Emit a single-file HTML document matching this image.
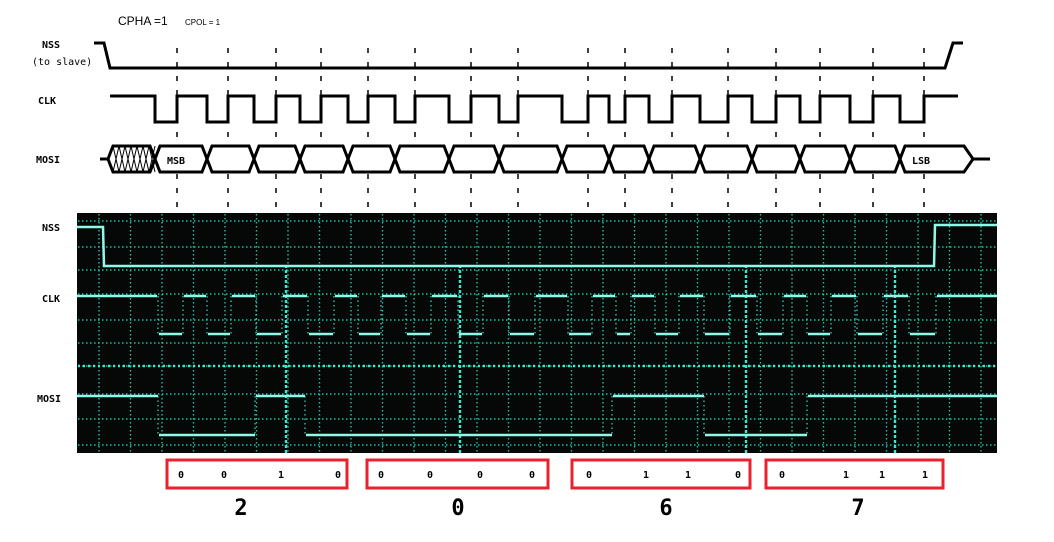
<!DOCTYPE html>
<html><head><meta charset="utf-8"><style>
body{margin:0;background:#fff;width:1054px;height:542px;overflow:hidden}
svg{display:block}
.m{font-family:"DejaVu Sans Mono","Liberation Mono",monospace;font-weight:bold}
</style></head><body>
<svg id="s" width="1054" height="542" viewBox="0 0 1054 542">
<text x="118" y="25" font-family="Liberation Sans,sans-serif" font-size="12">CPHA =1</text>
<text x="185" y="25" font-family="Liberation Sans,sans-serif" font-size="8">CPOL = 1</text>
<text x="42" y="48" class="m" font-size="10">NSS</text>
<text x="32" y="65" font-family="DejaVu Sans Mono,monospace" font-size="10">(to slave)</text>
<text x="38" y="104" class="m" font-size="10">CLK</text>
<text x="36" y="163" class="m" font-size="10">MOSI</text>
<text x="42" y="231" class="m" font-size="10">NSS</text>
<text x="42" y="302" class="m" font-size="10">CLK</text>
<text x="37" y="402" class="m" font-size="10">MOSI</text>
<g id="topg"></g>
<rect x="77" y="213" width="920" height="240" fill="#050806"/>
<g id="grid"></g>
<g id="tr"></g>
<g id="boxes"></g>
</svg>
<script>
// ---- data ----
const clkEdgesTop = [155,177,207,228,254,276,300,321,348,368,395,415,449,471,499,518,562,588,609,625,649,672,700,728,752,776,800,820,850,873,900,924];
const risingTop = [177,228,276,321,368,415,471,518,588,625,672,728,776,820,873,924];
const mosiBoundaries = [155,207,254,300,348,395,449,499,562,609,649,700,752,800,850,900];
const scopeClkEdges = [157,182,206,230,255,281,307,333,357,380,405,430,457,482,508,534,567,591,615,630,654,678,703,729,756,782,806,830,856,882,908,935];
const scopeMosiEdges = [158,255,305,612,704,807];
const scopeMosiStartHigh = true;
const bitGroups = [["0","0","1","0"],["0","0","0","0"],["0","1","1","0"],["0","1","1","1"]];
const nibbleValues = ["2","0","6","7"];
const NS="http://www.w3.org/2000/svg";
function mk(p,t,a){const e=document.createElementNS(NS,t);for(const k in a)e.setAttribute(k,a[k]);p.appendChild(e);return e;}
const topG=document.getElementById('topg');
let e=mk(topG,'polyline',{points:"94,43 104,43 110,68 945,68 953,43 963,43",fill:"none",stroke:"#000","stroke-width":3});


const hi=96,lo=122;let pts=["110,"+hi];let lvl=hi;
clkEdgesTop.forEach(x=>{pts.push(x+","+lvl);lvl=(lvl==hi?lo:hi);pts.push(x+","+lvl);});
pts.push("958,"+lvl);
e=mk(topG,'polyline',{points:pts.join(" "),fill:"none",stroke:"#000","stroke-width":3});


risingTop.forEach(x=>{
 const l=mk(topG,'line',{x1:x,y1:48,x2:x,y2:212,stroke:"#000","stroke-width":1.5,"stroke-dasharray":"5,9"});
 
 
});
const mt=146,mb=172,mc=159;
mk(topG,'line',{x1:100,y1:mc,x2:108,y2:mc,stroke:"#000","stroke-width":3});
mk(topG,'line',{x1:973,y1:mc,x2:990,y2:mc,stroke:"#000","stroke-width":3});
e=mk(topG,'polygon',{points:`108,${mc} 113,${mt} 150,${mt} 155,${mc} 150,${mb} 113,${mb}`,fill:"#fff",stroke:"#000","stroke-width":3});


for(let x=113;x<150;x+=6){mk(topG,'path',{d:`M${x},${mt} L${x+6},${mb} M${x+6},${mt} L${x},${mb}`,stroke:"#000","stroke-width":1});}
const bnd=mosiBoundaries.concat([973]);
for(let i=0;i<bnd.length-1;i++){
 const a=bnd[i],b=bnd[i+1];const endPt=(i==bnd.length-2);
 const p=mk(topG,'polygon',{points:`${a},${mc} ${a+5},${mt} ${b-(endPt?9:5)},${mt} ${b},${mc} ${b-(endPt?9:5)},${mb} ${a+5},${mb}`,fill:"#fff",stroke:"#000","stroke-width":3});
 
 
}
e=mk(topG,'text',{x:167,y:164,"font-size":10,class:"m"});e.textContent="MSB";


e=mk(topG,'text',{x:912,y:164,"font-size":10,class:"m"});e.textContent="LSB";


const g=document.getElementById('grid');
const col="#1fbfa6";
for(let x=99;x<997;x+=31.5){mk(g,'line',{x1:x,y1:214,x2:x,y2:452,stroke:col,"stroke-width":1.4,"stroke-dasharray":"1.5,2.5"});}
[221,247,270,294,320,343,366,394,419,445].forEach(y=>{mk(g,'line',{x1:78,y1:y,x2:996,y2:y,stroke:col,"stroke-width":1.4,"stroke-dasharray":"1.5,2.5"});});
[286,460,746,895].forEach(x=>{mk(g,'line',{x1:x,y1:265,x2:x,y2:453,stroke:"#3fe8cc","stroke-width":2.4,"stroke-dasharray":"3,2"});});
mk(g,'line',{x1:78,y1:366,x2:996,y2:366,stroke:"#3fe8cc","stroke-width":2.4,"stroke-dasharray":"2,3"});
const tr=document.getElementById('tr');const tc="#8ff8e6";
e=mk(tr,'polyline',{points:"77,227 103,227 104,266 934,266 935,225 997,225",fill:"none",stroke:tc,"stroke-width":2.5});


const sh=296,sl=334;lvl=sh;let segs=[],vsegs=[];let prev=77;
scopeClkEdges.forEach(x=>{segs.push(`M${prev},${lvl} L${x},${lvl}`);vsegs.push(`M${x+1},${sh} L${x+1},${sl}`);lvl=(lvl==sh?sl:sh);prev=x+2;});
segs.push(`M${prev},${lvl} L997,${lvl}`);
mk(tr,'path',{d:vsegs.join(" "),fill:"none",stroke:"#3fd8c0","stroke-width":1.2,"stroke-dasharray":"1.5,3"});
e=mk(tr,'path',{d:segs.join(" "),fill:"none",stroke:tc,"stroke-width":2.5});


const mh=396,ml=435;lvl=scopeMosiStartHigh?mh:ml;segs=[];vsegs=[];prev=77;
scopeMosiEdges.forEach(x=>{segs.push(`M${prev},${lvl} L${x},${lvl}`);vsegs.push(`M${x},${mh} L${x},${ml}`);lvl=(lvl==mh?ml:mh);prev=x+1;});
segs.push(`M${prev},${lvl} L997,${lvl}`);
mk(tr,'path',{d:vsegs.join(" "),fill:"none",stroke:"#3fd8c0","stroke-width":1.2,"stroke-dasharray":"1.5,3"});
e=mk(tr,'path',{d:segs.join(" "),fill:"none",stroke:tc,"stroke-width":2.5});


const bx=document.getElementById('boxes');
const boxX=[167,367,572,766],boxW=[180,181,178,177];
const digX=[[181,224,281,338],[381,430,480,532],[589,646,688,738],[782,846,882,925]];
const bigX=[241,458,666,858];
bitGroups.forEach((grp,i)=>{
 const r=mk(bx,'rect',{x:boxX[i],y:460,width:boxW[i],height:28,fill:"none",stroke:"#e8212e","stroke-width":3});
 
 
 grp.forEach((b,j)=>{const t=mk(bx,'text',{x:digX[i][j],y:478,"font-size":10,class:"m","text-anchor":"middle"});t.textContent=b;
  
  });
 const t=mk(bx,'text',{x:bigX[i],y:515,"font-size":22,class:"m","text-anchor":"middle"});t.textContent=nibbleValues[i];
 
 
});
</script>
</body></html>
